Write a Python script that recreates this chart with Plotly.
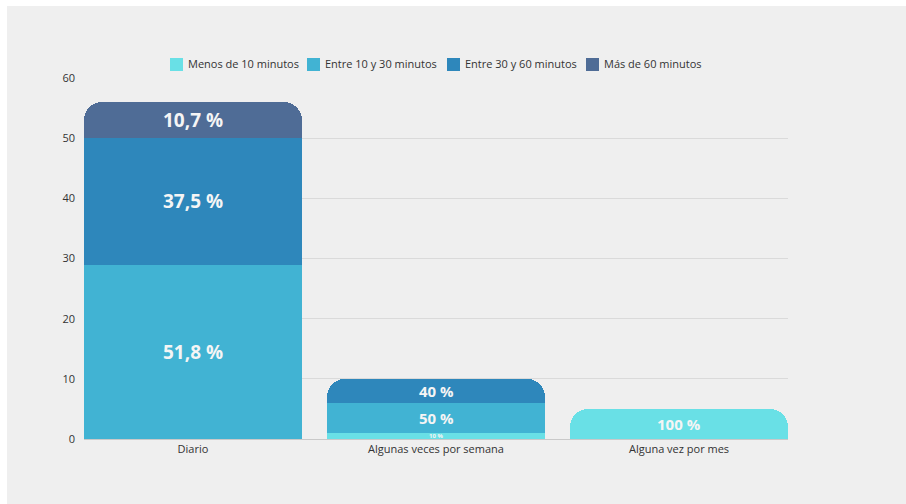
import plotly.graph_objects as go

# Frequency categories on the x axis
categories = ["Diario", "Algunas veces por semana", "Alguna vez por mes"]

# Duration groups (stack order, bottom to top) and their counts per category
series_names = ["Menos de 10 minutos", "Entre 10 y 30 minutos",
                "Entre 30 y 60 minutos", "Más de 60 minutos"]
menos_10 = [0, 1, 5]
entre_10_30 = [29, 5, 0]
entre_30_60 = [21, 4, 0]
mas_60 = [6, 0, 0]
series_values = [menos_10, entre_10_30, entre_30_60, mas_60]

colors = ["#69e0e6", "#41b3d3", "#2e87bb", "#4f6c96"]

y_ticks = [0, 10, 20, 30, 40, 50, 60]

totals = [sum(v[i] for v in series_values) for i in range(len(categories))]


def pct_label(value, total):
    p = 100.0 * value / total
    s = f"{p:.1f}".replace(".", ",")
    if s.endswith(",0"):
        s = s[:-2]
    return f"{s} %"


W, H = 906, 504
ML, MR, MT, MB = 84, 118, 78, 65
PW, PH = W - ML - MR, H - MT - MB


def px_x(px):
    return (px - ML) / PW


def px_y(py):
    return (H - MB - py) / PH


fig = go.Figure()
annotations = []
base = [0] * len(categories)
for name, vals, col in zip(series_names, series_values, colors):
    ys = [v if v > 0 else None for v in vals]
    fig.add_trace(go.Bar(
        name=name,
        x=categories,
        y=ys,
        width=0.897,
        marker=dict(color=col, line=dict(width=0)),
        hoverinfo="skip",
        showlegend=False,
    ))
    # percentage labels centred in each segment
    for i, (v, t) in enumerate(zip(vals, totals)):
        if v > 0:
            if t >= 30:
                size = 19
            elif v >= 2:
                size = 15
            else:
                size = 6
            annotations.append(dict(
                x=categories[i], y=base[i] + v / 2, xref="x", yref="y",
                text=pct_label(v, t), showarrow=False,
                font=dict(family="Open Sans", size=size, color="#f5f5f5", weight="bold"),
                xanchor="center", yanchor="middle",
            ))
            base[i] += v

# legend drawn as coloured squares with labels
legend_left_px = [170, 307, 447, 586]
shapes = []
for name, col, lx in zip(series_names, colors, legend_left_px):
    shapes.append(dict(
        type="rect", xref="paper", yref="paper",
        x0=px_x(lx), x1=px_x(lx + 13), y0=px_y(71), y1=px_y(58),
        fillcolor=col, line=dict(width=0),
    ))
    annotations.append(dict(
        x=px_x(lx + 16), y=px_y(64), xref="paper", yref="paper",
        text=name, showarrow=False, xanchor="left", yanchor="middle",
        font=dict(family="Open Sans", size=11, color="#333333"),
    ))

# white page margin above and left of the chart card
shapes += [
    dict(type="rect", xref="paper", yref="paper",
         xsizemode="pixel", ysizemode="pixel", xanchor=0, yanchor=1,
         x0=-ML, x1=W - ML, y0=MT - 6, y1=MT,
         fillcolor="white", line=dict(width=0), layer="below"),
    dict(type="rect", xref="paper", yref="paper",
         xsizemode="pixel", ysizemode="pixel", xanchor=0, yanchor=1,
         x0=-ML, x1=-ML + 7, y0=-(H - MT), y1=MT,
         fillcolor="white", line=dict(width=0), layer="below"),
]

fig.update_layout(
    width=W, height=H,
    barmode="stack",
    barcornerradius=18,
    paper_bgcolor="#efefef",
    plot_bgcolor="#efefef",
    margin=dict(l=ML, r=MR, t=MT, b=MB, pad=0),
    font=dict(family="Open Sans", size=11, color="#333333"),
    showlegend=False,
    xaxis=dict(
        range=[-0.4485, 2.4485],
        showgrid=False,
        showline=True, linecolor="#c9c9c9", linewidth=1,
        ticks="", tickfont=dict(size=11, color="#333333"),
        fixedrange=True,
    ),
    yaxis=dict(
        range=[0, 60],
        tickvals=y_ticks,
        showgrid=True, gridcolor="#dadada", gridwidth=1,
        zeroline=False, showline=False,
        ticks="", ticklabelstandoff=8,
        tickfont=dict(size=11, color="#333333"),
        fixedrange=True,
    ),
    shapes=shapes,
    annotations=annotations,
)

fig.write_html("out.html")
